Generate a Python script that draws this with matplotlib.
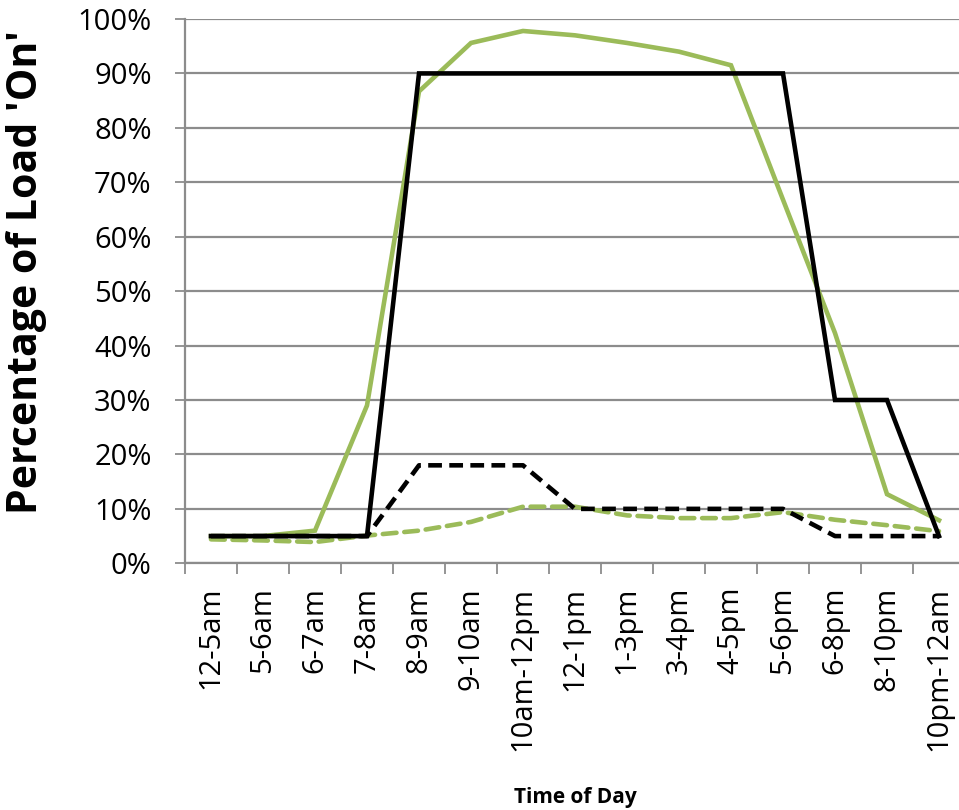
import numpy as np
import matplotlib
matplotlib.use('Agg')
import matplotlib.pyplot as plt

plt.rcParams['font.family'] = ['Open Sans', 'DejaVu Sans']

# data
time_slots = ['12-5am', '5-6am', '6-7am', '7-8am', '8-9am', '9-10am', '10am-12pm',
              '12-1pm', '1-3pm', '3-4pm', '4-5pm', '5-6pm', '6-8pm', '8-10pm', '10pm-12am']
green_solid = [5.0, 5.0, 6.0, 29.0, 86.7, 95.6, 97.8, 97.0, 95.6, 94.0, 91.5, 66.8, 42.3, 12.7, 7.9]
black_solid = [5, 5, 5, 5, 90, 90, 90, 90, 90, 90, 90, 90, 30, 30, 5]
green_dashed = [4.4, 4.2, 3.9, 5.1, 6.0, 7.6, 10.4, 10.4, 8.8, 8.3, 8.3, 9.4, 8.0, 7.0, 5.9]
black_dashed = [5, 5, 5, 5, 18, 18, 18, 10, 10, 10, 10, 10, 5, 5, 5]

GREEN = '#9BBB59'
GRID = '#8c8c8c'

fig = plt.figure(figsize=(9.59, 8.10), dpi=100)
ax = fig.add_axes([185 / 959, 246.7 / 810, 780 / 959, 544.3 / 810])

x = np.arange(len(time_slots))
lw = 3.3
ax.plot(x, green_dashed, color=GREEN, lw=lw, dashes=(3.0, 1.7), dash_capstyle='round', zorder=3)
ax.plot(x, green_solid, color=GREEN, lw=lw, solid_joinstyle='miter', zorder=4)
ax.plot(x, black_dashed, color='black', lw=lw, dashes=(3.0, 1.6), zorder=5)
ax.plot(x, black_solid, color='black', lw=lw, solid_joinstyle='miter', zorder=6)

ax.set_xlim(-0.5, len(time_slots) - 0.5)
ax.set_ylim(0, 100)

# y axis
ax.set_yticks(np.arange(0, 101, 10))
ax.set_yticklabels([f'{v}%' for v in range(0, 101, 10)])
ax.yaxis.grid(True, color=GRID, lw=1.6)
ax.set_axisbelow(True)
ax.tick_params(axis='y', direction='out', length=7, width=1.3, color=GRID,
               labelsize=21, pad=17)

# x axis: labels at centres, tick marks at the boundaries
ax.set_xticks(x)
ax.set_xticklabels(time_slots, rotation=90, fontsize=21)
ax.tick_params(axis='x', which='major', length=0, pad=17)
ax.set_xticks(np.arange(-0.5, len(time_slots)), minor=True)
ax.tick_params(axis='x', which='minor', direction='out', length=8, width=1.3, color=GRID)

for s in ['top', 'right']:
    ax.spines[s].set_visible(False)
for s in ['left', 'bottom']:
    ax.spines[s].set_color(GRID)
    ax.spines[s].set_linewidth(1.6)

fig.text(27 / 959, 1 - 272 / 810, "Percentage of Load 'On'", fontsize=29.5,
         fontweight='bold', rotation=90, ha='center', va='center')
fig.text(575 / 959, 1 - 797 / 810, 'Time of Day', fontsize=15,
         fontweight='bold', ha='center', va='center')

fig.savefig('out.png', dpi=100)
